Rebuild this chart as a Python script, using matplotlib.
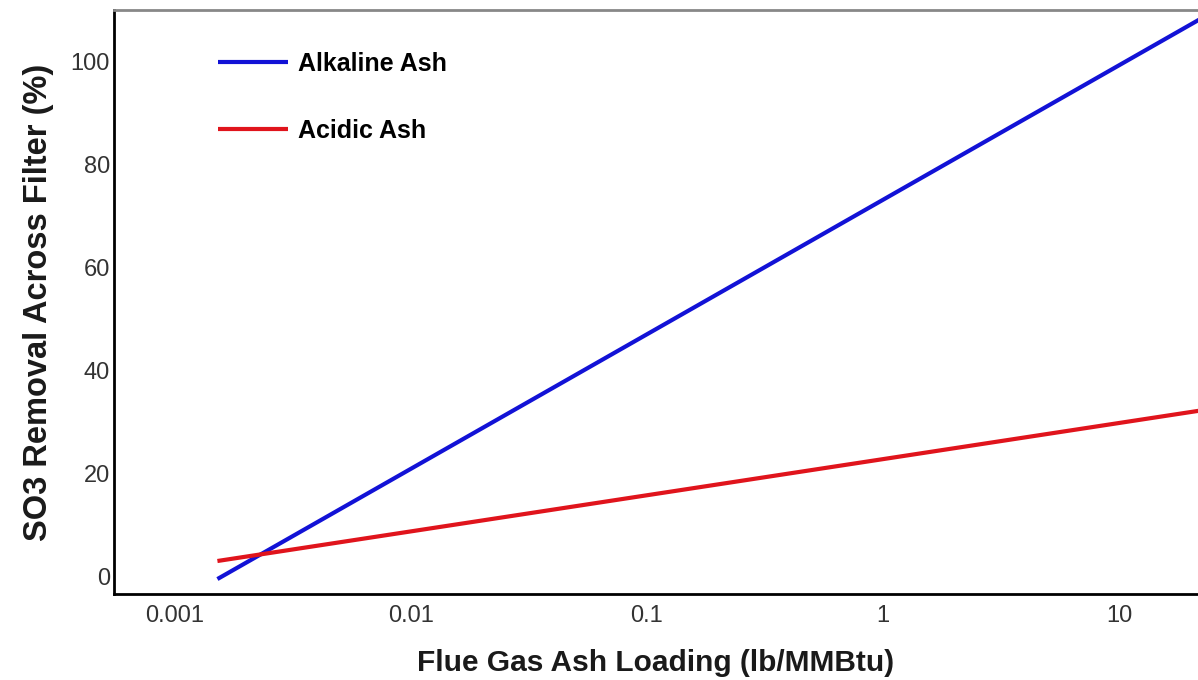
import matplotlib

matplotlib.use("Agg")
import matplotlib.pyplot as plt  # noqa: E402
from matplotlib.ticker import FixedLocator, NullLocator  # noqa: E402

# Straight fits on the log axis, read at their two ends
ash_loading = [0.00152, 22.0]
alkaline = [-0.4, 108.3]
acidic = [3.1, 32.3]

x_ticks = [0.001, 0.01, 0.1, 1, 10]
x_tick_labels = ["0.001", "0.01", "0.1", "1", "10"]
y_ticks = [0, 20, 40, 60, 80, 100]

plt.rcParams["font.family"] = ["Liberation Sans", "DejaVu Sans"]

fig = plt.figure(figsize=(11.98, 6.8), dpi=100)
ax = fig.add_axes([0.0952, 0.1265, 0.9048, 0.8585])

ax.plot(ash_loading, alkaline, color="#1212d6", lw=3, label="Alkaline Ash",
        solid_capstyle="butt")
ax.plot(ash_loading, acidic, color="#e0141c", lw=3, label="Acidic Ash",
        solid_capstyle="butt")

ax.set_xscale("log")
ax.set_xlim(0.000555, 21.5)
ax.set_ylim(-3.3, 110)
ax.xaxis.set_major_locator(FixedLocator(x_ticks))
ax.xaxis.set_minor_locator(NullLocator())
ax.set_xticklabels(x_tick_labels)
ax.set_yticks(y_ticks)
ax.tick_params(length=0, labelsize=17, labelcolor="#333333")
ax.tick_params(axis="y", pad=3)
ax.tick_params(axis="x", pad=8)

ax.spines["right"].set_visible(False)
ax.spines["top"].set_color("#888888")
ax.spines["top"].set_linewidth(2)
ax.spines["left"].set_linewidth(2)
ax.spines["bottom"].set_linewidth(2)

ax.set_xlabel("Flue Gas Ash Loading (lb/MMBtu)", fontsize=21.5, fontweight="bold",
              color="#1a1a1a", labelpad=16)
ax.set_ylabel("SO3 Removal Across Filter (%)", fontsize=23.5, fontweight="bold",
              color="#1a1a1a", labelpad=12)

leg = ax.legend(loc="upper left", bbox_to_anchor=(0.096, 0.928), frameon=False,
                prop={"size": 18, "weight": "bold"}, handlelength=2.8,
                handletextpad=0.4, labelspacing=1.72, borderpad=0,
                borderaxespad=0)

fig.savefig("out.png", dpi=100)
